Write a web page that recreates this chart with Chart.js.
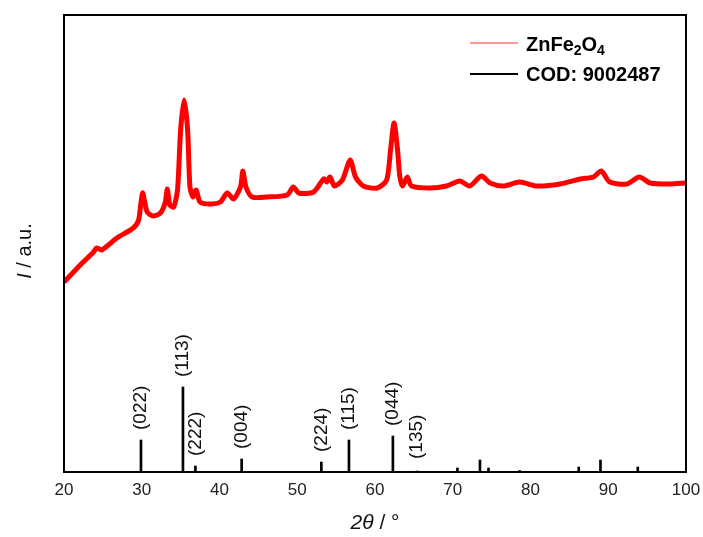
<!DOCTYPE html>
<html>
<head>
<meta charset="utf-8">
<script src="https://cdn.jsdelivr.net/npm/chart.js@4/dist/chart.umd.min.js"></script>
<style>
  html, body { margin: 0; padding: 0; background: #fff; }
  #wrap { width: 703px; height: 537px; }
</style>
</head>
<body>
<div id="wrap"><canvas id="xrd"></canvas></div>
<script>
// measured pattern (2theta in degrees, intensity in a.u.)
const twoTheta = [20.0, 22.1, 23.8, 24.2, 24.85, 26.8, 28.9, 29.6, 30.1, 30.7, 31.5, 32.4, 33.0, 33.3, 33.6, 34.1, 34.6, 35.0, 35.45, 35.9, 36.2, 36.6, 37.0, 37.5, 38.8, 40.1, 41.0, 41.8, 42.7, 43.0, 43.4, 44.2, 46.1, 48.7, 49.5, 50.2, 52.1, 53.4, 53.8, 54.2, 54.8, 55.8, 56.8, 57.5, 58.5, 60.3, 61.5, 62.0, 62.45, 62.9, 63.2, 63.55, 64.15, 64.7, 67.1, 69.2, 70.9, 72.2, 73.7, 74.8, 76.5, 78.6, 80.8, 83.8, 86.4, 88.1, 89.1, 90.2, 92.4, 94.0, 95.4, 97.9, 100.0];
const intensity = [190, 207, 220, 224, 222, 234, 244, 252, 279, 260, 256, 259, 269, 283, 267, 265, 282, 342, 372, 342, 285, 275, 282, 270, 268, 270, 279, 273, 285, 301, 285, 275, 275, 277, 285, 279, 280, 293, 290, 295, 286, 292, 312, 295, 286, 284, 292, 322, 349, 322, 295, 286, 295, 286, 284, 286, 291, 286, 296, 289, 286, 290, 286, 288, 293, 295, 301, 290, 288, 295, 289, 288, 289];

// reference pattern COD 9002487
const refPos = [29.9, 35.3, 36.9, 42.85, 53.1, 56.65, 62.3, 65.4, 70.6, 73.5, 74.6, 78.6, 86.2, 89.0, 93.8];
const refInt = [32, 85, 6, 13, 10, 32, 36, 1, 4, 12, 4, 1.5, 5, 12, 5];
const hklLabels = ['(022)', '(113)', '(222)', '(004)', '(224)', '(115)', '(044)', '(135)'];

const xTicks = [20, 30, 40, 50, 60, 70, 80, 90, 100];

const FONT = '"Liberation Sans", Arial, sans-serif';

// draws text where digits become subscripts (ZnFe2O4)
function drawChem(ctx, text, x, y, size) {
  let cx = x;
  for (const ch of text) {
    const sub = /[0-9]/.test(ch);
    ctx.font = 'bold ' + (sub ? Math.round(size * 0.68) : size) + 'px ' + FONT;
    ctx.fillText(ch, cx, sub ? y + size * 0.3 : y);
    cx += ctx.measureText(ch).width;
  }
}

const decor = {
  id: 'decor',
  afterDraw(chart) {
    const ctx = chart.ctx;
    const a = chart.chartArea;
    const xs = chart.scales.x, ys = chart.scales.y;
    ctx.save();

    // frame
    ctx.strokeStyle = '#000';
    ctx.lineWidth = 2;
    ctx.strokeRect(a.left, a.top, a.right - a.left, a.bottom - a.top);

    // hkl labels, rotated, sitting above their sticks
    ctx.fillStyle = '#111';
    ctx.font = '19px ' + FONT;
    ctx.textAlign = 'left';
    ctx.textBaseline = 'middle';
    hklLabels.forEach((lab, i) => {
      const px = xs.getPixelForValue(refPos[i]);
      const top = ys.getPixelForValue(refInt[i]);
      const base = Math.min(top - 10, 459);
      ctx.save();
      ctx.translate(px, base);
      ctx.rotate(-Math.PI / 2);
      ctx.fillText(lab, 0, 0);
      ctx.restore();
    });

    // x title: 2θ / °
    ctx.textBaseline = 'middle';
    ctx.textAlign = 'left';
    const cxm = (a.left + a.right) / 2;
    ctx.font = 'italic 21px ' + FONT;
    const p1 = '2\u03B8';
    const w1 = ctx.measureText(p1).width;
    ctx.font = '21px ' + FONT;
    const p2 = ' / \u00B0';
    const w2 = ctx.measureText(p2).width;
    let sx = cxm - (w1 + w2) / 2;
    ctx.font = 'italic 21px ' + FONT;
    ctx.fillText(p1, sx, 523);
    ctx.font = '21px ' + FONT;
    ctx.fillText(p2, sx + w1, 523);

    // y title: I / a.u.
    ctx.save();
    ctx.translate(25, 251);
    ctx.rotate(-Math.PI / 2);
    ctx.font = 'italic 20px ' + FONT;
    const q1 = 'I';
    const v1 = ctx.measureText(q1).width;
    ctx.font = '20px ' + FONT;
    const q2 = ' / a.u.';
    const v2 = ctx.measureText(q2).width;
    ctx.font = 'italic 20px ' + FONT;
    ctx.fillText(q1, -(v1 + v2) / 2, 0);
    ctx.font = '20px ' + FONT;
    ctx.fillText(q2, -(v1 + v2) / 2 + v1, 0);
    ctx.restore();

    // legend
    const ds = chart.data.datasets;
    ctx.lineWidth = 1.5;
    ctx.strokeStyle = 'rgba(255,0,0,0.55)';
    ctx.beginPath(); ctx.moveTo(470, 43); ctx.lineTo(518, 43); ctx.stroke();
    ctx.lineWidth = 2;
    ctx.strokeStyle = '#000';
    ctx.beginPath(); ctx.moveTo(470, 74); ctx.lineTo(518, 74); ctx.stroke();
    ctx.fillStyle = '#000';
    ctx.textBaseline = 'middle';
    drawChem(ctx, ds[0].label, 526, 45, 20);
    ctx.font = 'bold 20px ' + FONT;
    ctx.fillText(ds[1].label, 526, 75);

    ctx.restore();
  }
};

new Chart(document.getElementById('xrd'), {
  type: 'line',
  data: {
    datasets: [
      {
        type: 'line',
        label: 'ZnFe2O4',
        data: twoTheta.map((t, i) => ({ x: t, y: intensity[i] })),
        borderColor: '#ff0000',
        borderWidth: 5,
        pointRadius: 0,
        tension: 0.25,
        fill: false
      },
      {
        type: 'bar',
        label: 'COD: 9002487',
        data: refPos.map((t, i) => ({ x: t, y: refInt[i] })),
        backgroundColor: '#000',
        barThickness: 2,
        grouped: false
      }
    ]
  },
  options: {
    responsive: true,
    maintainAspectRatio: false,
    animation: false,
    layout: { padding: { left: 64, right: 17, top: 15, bottom: 0 } },
    plugins: { legend: { display: false }, tooltip: { enabled: false } },
    scales: {
      x: {
        type: 'linear',
        min: 20,
        max: 100,
        offset: false,
        afterBuildTicks(scale) { scale.ticks = xTicks.map(v => ({ value: v })); },
        afterFit(scale) {
          scale.height = 65;
          scale.paddingLeft = 0;
          scale.paddingRight = 0;
        },
        grid: { display: false, drawTicks: false, offset: false },
        border: { display: false },
        ticks: { color: '#222', padding: 8, font: { family: FONT, size: 17 }, maxRotation: 0 }
      },
      y: {
        display: false,
        min: 0,
        max: 457
      }
    }
  },
  plugins: [decor]
});
</script>
</body>
</html>
